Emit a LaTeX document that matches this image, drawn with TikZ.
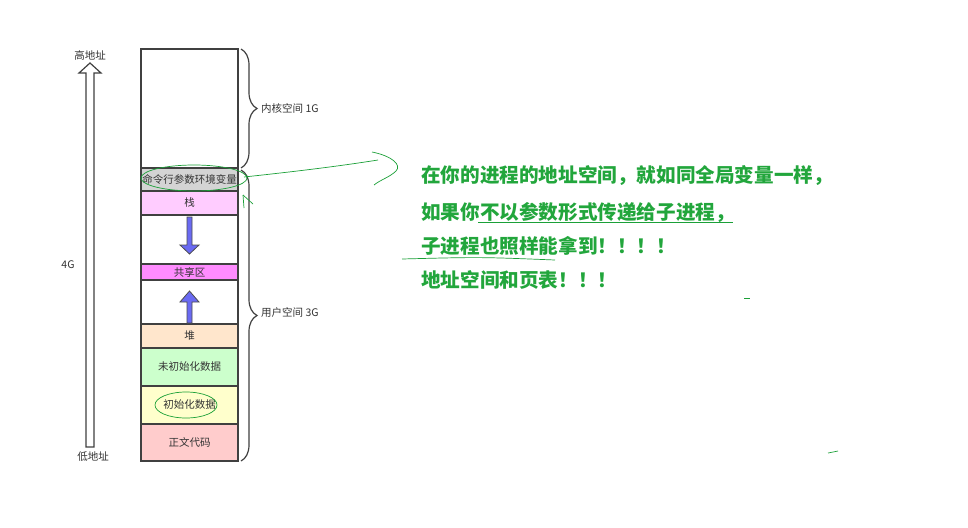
\documentclass[tikz,border=0pt]{standalone}
\usepackage{fontspec}
\setmainfont{Noto Sans CJK SC}
\usepackage{xcolor}
\usetikzlibrary{arrows.meta,positioning,decorations.pathreplacing}
\definecolor{argsgrey}{HTML}{D4D4D4}
\definecolor{stkpink}{HTML}{FFCCFF}
\definecolor{shmpink}{HTML}{FF8CFF}
\definecolor{heappeach}{HTML}{FFE6CC}
\definecolor{bssgreen}{HTML}{CCFFCC}
\definecolor{datayellow}{HTML}{FFFFCC}
\definecolor{textred}{HTML}{FFCCCC}
\definecolor{arrowblue}{HTML}{6A6AF2}
\definecolor{notegreen}{HTML}{22A63C}
\definecolor{inkgreen}{HTML}{1BA038}
\begin{document}
\begin{tikzpicture}[x=1pt,y=-1pt, seg/.style={draw=black!75,line width=1.2pt,minimum width=97pt,inner sep=0pt,outer sep=0pt,font=\fontsize{10.5}{12}\selectfont,text=black!80}, brc/.style={draw=black!75,line width=1.2pt,decorate,decoration={brace,amplitude=16pt}}, lbl/.style={font=\fontsize{10.5}{12}\selectfont,text=black!80,inner sep=0pt}, note/.style={font=\fontsize{19.6}{22}\selectfont\bfseries,text=notegreen,anchor=west,inner sep=0pt}, ink/.style={draw=inkgreen,line width=0.7pt}, fat/.style={draw=black!70,fill=arrowblue,line width=0.8pt}]
\useasboundingbox[fill=white] (0,0) rectangle (968,527);
% memory layout
\node[seg,minimum height=119pt,anchor=north west] (kern) at (141,49) {};
\node[seg,minimum height=23pt,fill=argsgrey,below=0pt of kern] (args) {命令行参数环境变量};
\node[seg,minimum height=24pt,fill=stkpink,below=0pt of args] (stk) {栈};
\node[seg,minimum height=49pt,below=0pt of stk] (gapa) {};
\node[seg,minimum height=16pt,fill=shmpink,below=0pt of gapa] (shm) {共享区};
\node[seg,minimum height=44pt,below=0pt of shm] (gapb) {};
\node[seg,minimum height=24pt,fill=heappeach,below=0pt of gapb] (heap) {堆};
\node[seg,minimum height=38pt,fill=bssgreen,below=0pt of heap] (bss) {未初始化数据};
\node[seg,minimum height=38pt,fill=datayellow,below=0pt of bss] (data) {初始化数据};
\node[seg,minimum height=37pt,fill=textred,below=0pt of data] (text) {正文代码};
% growth arrows
\draw[fat] (187,217) -- (192,217) -- (192,245) -- (199,245) -- (189.5,254) -- (180,245) -- (187,245) -- cycle;
\draw[fat] (187,323) -- (192,323) -- (192,302) -- (199,302) -- (189.5,291) -- (180,302) -- (187,302) -- cycle;
% braces
\draw[brc] (241,49) -- (241,168);
\draw[brc] (241,170) -- (241,461);
\node[lbl,anchor=west] (kspace) at (261,108) {内核空间 1G};
\node[lbl,anchor=west] (uspace) at (261,313) {用户空间 3G};
% address arrow
\draw[draw=black!75,line width=1.2pt,fill=white] (86,447) -- (94,447) -- (94,73) -- (101,73) -- (90,63) -- (79,73) -- (86,73) -- cycle;
\node[lbl] (hi) at (90,55) {高地址};
\node[lbl] (lo) at (93,457) {低地址};
\node[lbl] (four) at (68,265) {4G};
% notes
\node[note] (la) at (421,176) {在你的进程的地址空间，就如同全局变量一样，};
\node[note] (lb) at (421,212) {如果你不以参数形式传递给子进程，};
\node[note] (lc) at (421,246) {子进程也照样能拿到！！！！};
\node[note] (ld) at (421,280) {地址空间和页表！！！};
% scribbles
\draw[ink] (194,178) ellipse (53 and 13);
\draw[ink] (186,405) ellipse (31 and 13);
\draw[ink] (244,177) .. controls (300,171) and (340,166) .. (378,160);
\draw[ink] (372,152) .. controls (392,156) and (402,165) .. (396,171) .. controls (390,177) and (380,180) .. (374,185);
\draw[ink] (243,195) -- (244,208);
\draw[ink] (243,195) -- (253,204);
\draw[ink] (478,222) -- (733,222);
\draw[ink] (402,259) .. controls (480,257) .. (555,260);
\draw[ink] (744,298) -- (750,298);
\draw[ink] (828,453) -- (838,451);
\end{tikzpicture}
\end{document}
